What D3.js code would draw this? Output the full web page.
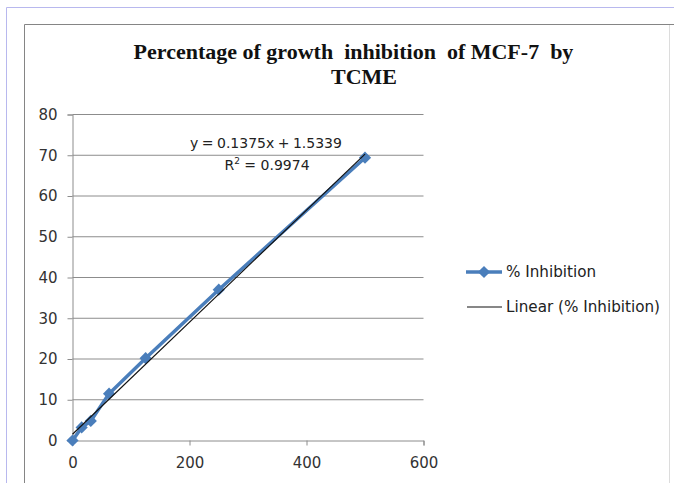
<!DOCTYPE html>
<html><head><meta charset="utf-8">
<script src="https://cdn.jsdelivr.net/npm/d3@7"></script>
<style>
html,body{margin:0;padding:0;background:#fff;}
svg{display:block;}
text{white-space:pre;}
</style></head>
<body>
<svg id="c" width="674" height="483"></svg>
<script>
const concentrations = [0, 15.625, 31.25, 62.5, 125, 250, 500];
const inhibition = [0, 3.2, 4.8, 11.5, 20.2, 37.0, 69.4];
const xTicks = [0, 200, 400, 600];
const yTicks = [0, 10, 20, 30, 40, 50, 60, 70, 80];
const trendSlope = 0.1375, trendIntercept = 1.5339;
const titleLines = ["Percentage of growth  inhibition  of MCF-7  by", "TCME"];
const legendLabels = ["% Inhibition", "Linear (% Inhibition)"];
const equationLines = ["y = 0.1375x + 1.5339", "= 0.9974"];

const svg = d3.select("#c");
const blue = "#4a7ebb";
const font = "DejaVu Sans, Verdana, sans-serif";

// outer frames
svg.append("line").attr("x1",6.5).attr("x2",674).attr("y1",7.5).attr("y2",7.5).attr("stroke","#b8b8ee");
svg.append("line").attr("x1",6.5).attr("x2",6.5).attr("y1",7.5).attr("y2",483).attr("stroke","#b8b8ee");
svg.append("line").attr("x1",24.5).attr("x2",674).attr("y1",24.5).attr("y2",24.5).attr("stroke","#858585");
svg.append("line").attr("x1",24.5).attr("x2",24.5).attr("y1",24.5).attr("y2",483).attr("stroke","#858585");
svg.append("line").attr("x1",669.5).attr("x2",669.5).attr("y1",25).attr("y2",483).attr("stroke","#dcdcdc");

const x = d3.scaleLinear().domain([0,600]).range([72.5,423.5]);
const y = d3.scaleLinear().domain([0,80]).range([440.5,114.5]);

// gridlines
svg.append("g").selectAll("line").data(yTicks.filter(d=>d>0)).join("line")
  .attr("x1",x(0)).attr("x2",x(600)).attr("y1",d=>y(d)).attr("y2",d=>y(d))
  .attr("stroke","#8c8c8c").attr("stroke-width",1);

// axes
const yAxis = d3.axisLeft(y).tickValues(yTicks).tickSize(5).tickPadding(10);
const gy = svg.append("g").attr("transform",`translate(${x(0)},0)`).call(yAxis);
const xAxis = d3.axisBottom(x).tickValues(xTicks).tickSize(5).tickPadding(12);
const gx = svg.append("g").attr("transform",`translate(0,${y(0)})`).call(xAxis);
[gx,gy].forEach(g=>{
  g.select(".domain").attr("stroke","#8c8c8c");
  g.selectAll(".tick line").attr("stroke","#8c8c8c");
  g.selectAll(".tick text").attr("fill","#333").style("font-family",font).style("font-size","15px");
});

// series line
const line = d3.line().x((d,i)=>x(concentrations[i])).y(d=>y(d));
svg.append("path").datum(inhibition).attr("d",line).attr("fill","none")
  .attr("stroke",blue).attr("stroke-width",3.5).attr("stroke-linejoin","round");
const diamond = d3.symbol().type(d3.symbolDiamond2).size(95);
svg.append("g").selectAll("path").data(inhibition).join("path")
  .attr("d",diamond).attr("transform",(d,i)=>`translate(${x(concentrations[i])},${y(d)})`)
  .attr("fill",blue);

// trendline
const tx = [0, 500];
svg.append("line").attr("x1",x(tx[0])).attr("y1",y(trendIntercept+trendSlope*tx[0]))
  .attr("x2",x(tx[1])).attr("y2",y(trendIntercept+trendSlope*tx[1]))
  .attr("stroke","#111").attr("stroke-width",1.2);

// equation
svg.append("text").attr("x",266).attr("y",148).attr("text-anchor","middle")
  .style("font-family",font).style("font-size","14px").style("word-spacing","-1px").attr("fill","#222").text(equationLines[0]);
const r = svg.append("text").attr("x",267).attr("y",170).attr("text-anchor","middle")
  .style("font-family",font).style("font-size","14px").attr("fill","#222");
r.append("tspan").text("R");
r.append("tspan").attr("dy",-6).style("font-size","9px").text("2");
r.append("tspan").attr("dy",6).text(" " + equationLines[1]);

// title
svg.append("text").attr("x",353.5).attr("y",59).attr("text-anchor","middle")
  .style("font-family","Liberation Serif, Times New Roman, serif").style("font-weight","bold")
  .style("font-size","22px").attr("fill","#111").text(titleLines[0]);
svg.append("text").attr("x",364).attr("y",84).attr("text-anchor","middle")
  .style("font-family","Liberation Serif, Times New Roman, serif").style("font-weight","bold")
  .style("font-size","22px").attr("fill","#111").text(titleLines[1]);

// legend
const lg = svg.append("g");
lg.append("line").attr("x1",466).attr("x2",502).attr("y1",272).attr("y2",272).attr("stroke",blue).attr("stroke-width",3.5);
lg.append("path").attr("d",diamond).attr("transform","translate(484,272)").attr("fill",blue);
lg.append("line").attr("x1",467).attr("x2",502).attr("y1",307).attr("y2",307).attr("stroke","#111").attr("stroke-width",1.2);
lg.selectAll("text").data(legendLabels).join("text")
  .attr("x",506).attr("y",(d,i)=>277+i*35)
  .style("font-family",font).style("font-size","15.2px").attr("fill","#222").text(d=>d);
</script>
</body></html>
